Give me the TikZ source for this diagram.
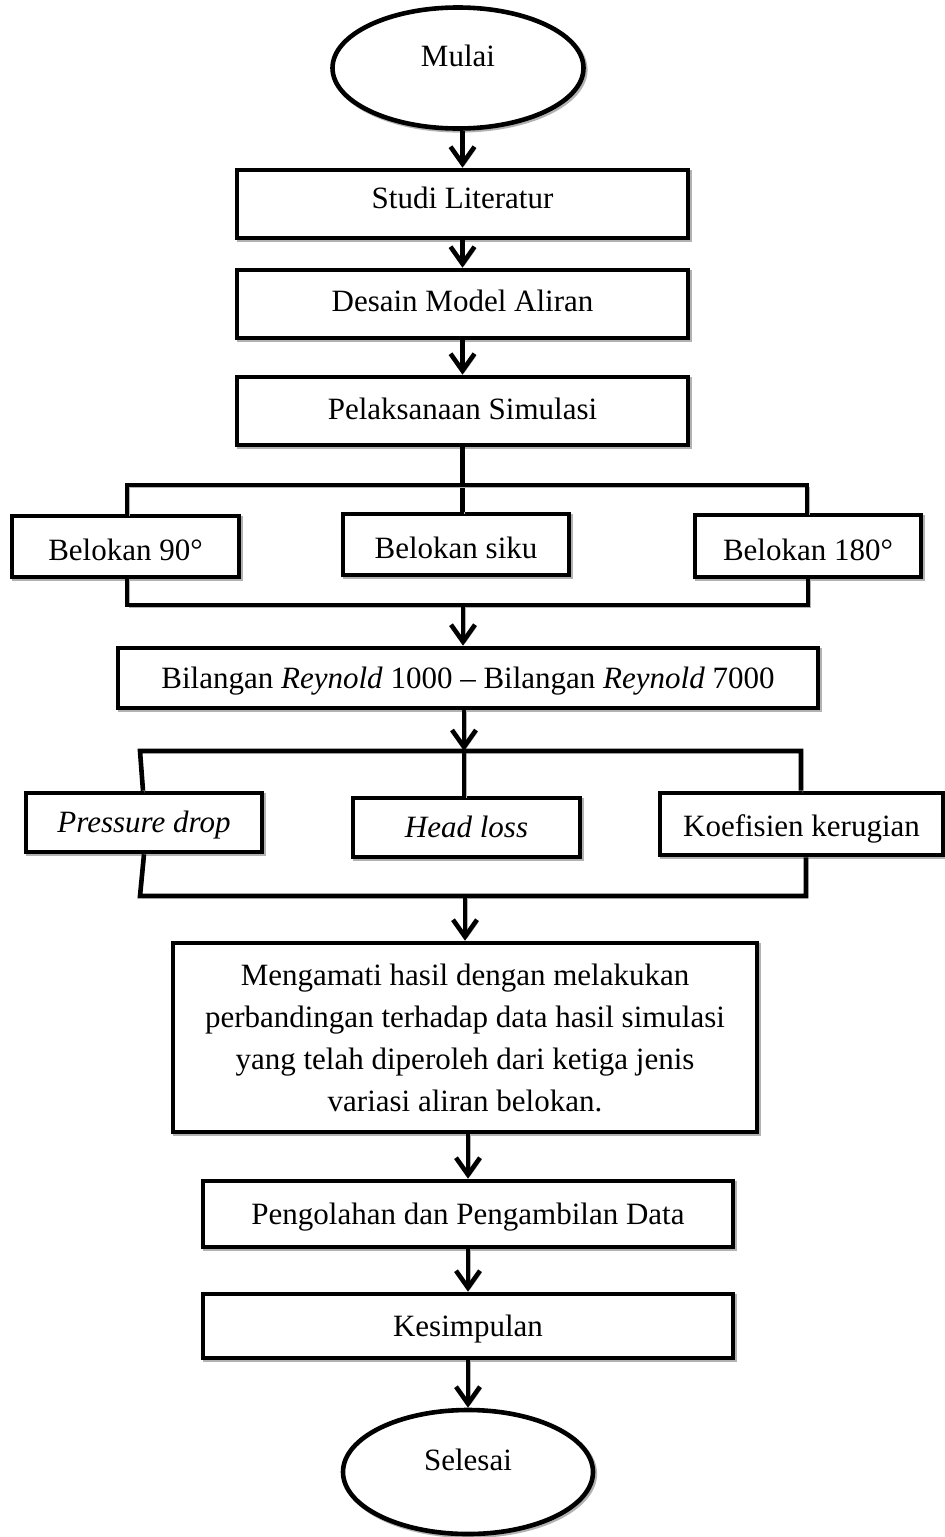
\documentclass[tikz,border=0pt]{standalone}
\usepackage{fontspec}
\setmainfont{Liberation Serif}
\usetikzlibrary{arrows.meta,shapes.geometric}
\begin{document}
\begin{tikzpicture}[x=1pt,y=-1pt,
  shd/.style={preaction={draw=black!30, transform canvas={shift={(1.8pt,-1.8pt)}}}},
  lw/.style={line width=4.6pt},
  box/.style={shd, lw, draw=black, fill=white, rectangle, inner sep=0pt, text height=20pt, text depth=0pt,
    font=\fontsize{31}{42}\selectfont},
  low/.style={text height=28pt, text depth=0pt},
  ell/.style={shd, lw, draw=black, fill=white, ellipse, inner sep=0pt, text height=22pt, text depth=26pt,
    font=\fontsize{31}{42}\selectfont},
  conn/.style={shd, lw, line cap=butt},
  arr/.style={conn, -{Straight Barb[length=17pt,width=24pt]}}
]
\useasboundingbox (0,0) rectangle (945,1537);
% shapes
\node[ell, minimum width=251pt, minimum height=121pt] (mulai) at (458,68) {Mulai};
\node[box, minimum width=451pt, minimum height=68pt, text depth=11pt] (studi) at (462.5,204) {Studi Literatur};
\node[box, minimum width=451pt, minimum height=68pt, text depth=6pt] (desain) at (462.5,304) {Desain Model Aliran};
\node[box, minimum width=451pt, minimum height=68pt, text depth=4pt] (pel) at (462.5,411) {Pelaksanaan Simulasi};
\node[box, low, minimum width=227pt, minimum height=61pt] (b90) at (125.5,546.5) {Belokan 90°};
\node[box, low, minimum width=226pt, minimum height=61pt] (siku) at (456,544.5) {Belokan siku};
\node[box, low, minimum width=226pt, minimum height=62pt] (b180) at (808,546) {Belokan 180°};
\node[box, minimum width=700pt, minimum height=60pt] (bil) at (468,678) {Bilangan \textit{Reynold} 1000 -- Bilangan \textit{Reynold} 7000};
\node[box, minimum width=236pt, minimum height=59pt] (pd) at (144,822.5) {\textit{Pressure drop}};
\node[box, minimum width=227pt, minimum height=59pt] (hl) at (466.5,827.5) {\textit{Head loss}};
\node[box, minimum width=283pt, minimum height=62pt, text height=25pt] (koef) at (801.5,824) {Koefisien kerugian};
\node[box, minimum width=584pt, minimum height=189pt, align=center, text height=, text depth=] (meng) at (465,1037.5)
  {Mengamati hasil dengan melakukan\\perbandingan terhadap data hasil simulasi\\yang telah diperoleh dari ketiga jenis\\variasi aliran belokan.};
\node[box, minimum width=530pt, minimum height=66pt] (peng) at (468,1214) {Pengolahan dan Pengambilan Data};
\node[box, minimum width=530pt, minimum height=64pt] (kes) at (468,1326) {Kesimpulan};
\node[ell, minimum width=250pt, minimum height=124pt] (sel) at (468,1472) {Selesai};
% bracket corner coordinates
\coordinate (t1l) at (127,485);
\coordinate (t1r) at (807,485);
\coordinate (u1l) at (127,605);
\coordinate (u1r) at (808,605);
\coordinate (u1m) at (463,605);
\coordinate (t2l) at (140,751);
\coordinate (t2r) at (801,751);
\coordinate (t2m) at (464,751);
\coordinate (u2l) at (140,896);
\coordinate (u2r) at (806,896);
\coordinate (u2m) at (465,896);
% connectors
\draw[arr] (mulai.south -| studi.north) -- (studi.north);
\draw[arr] (studi.south) -- (desain.north);
\draw[arr] (desain.south) -- (pel.north);
\draw[conn] (pel.south) -- (siku.north -| pel.south);
\draw[conn] (b90.north -| t1l) -- (t1l) -- (t1r) -- (b180.north -| t1r);
\draw[conn] (b90.south -| u1l) -- (u1l) -- (u1r) -- (b180.south -| u1r);
\draw[arr] (u1m) -- (bil.north -| u1m);
\draw[arr] (bil.south -| t2m) -- (t2m);
\draw[conn] (t2m) -- (hl.north -| t2m);
\draw[conn] (pd.north -| 143,0) -- (t2l) -- (t2r) -- (koef.north -| t2r);
\draw[conn] (pd.south -| 144,0) -- (u2l) -- (u2r) -- (koef.south -| u2r);
\draw[arr] (u2m) -- (meng.north -| u2m);
\draw[arr] (meng.south -| peng.north) -- (peng.north);
\draw[arr] (peng.south) -- (kes.north);
\draw[arr] (kes.south) -- (sel.north);
\end{tikzpicture}
\end{document}
